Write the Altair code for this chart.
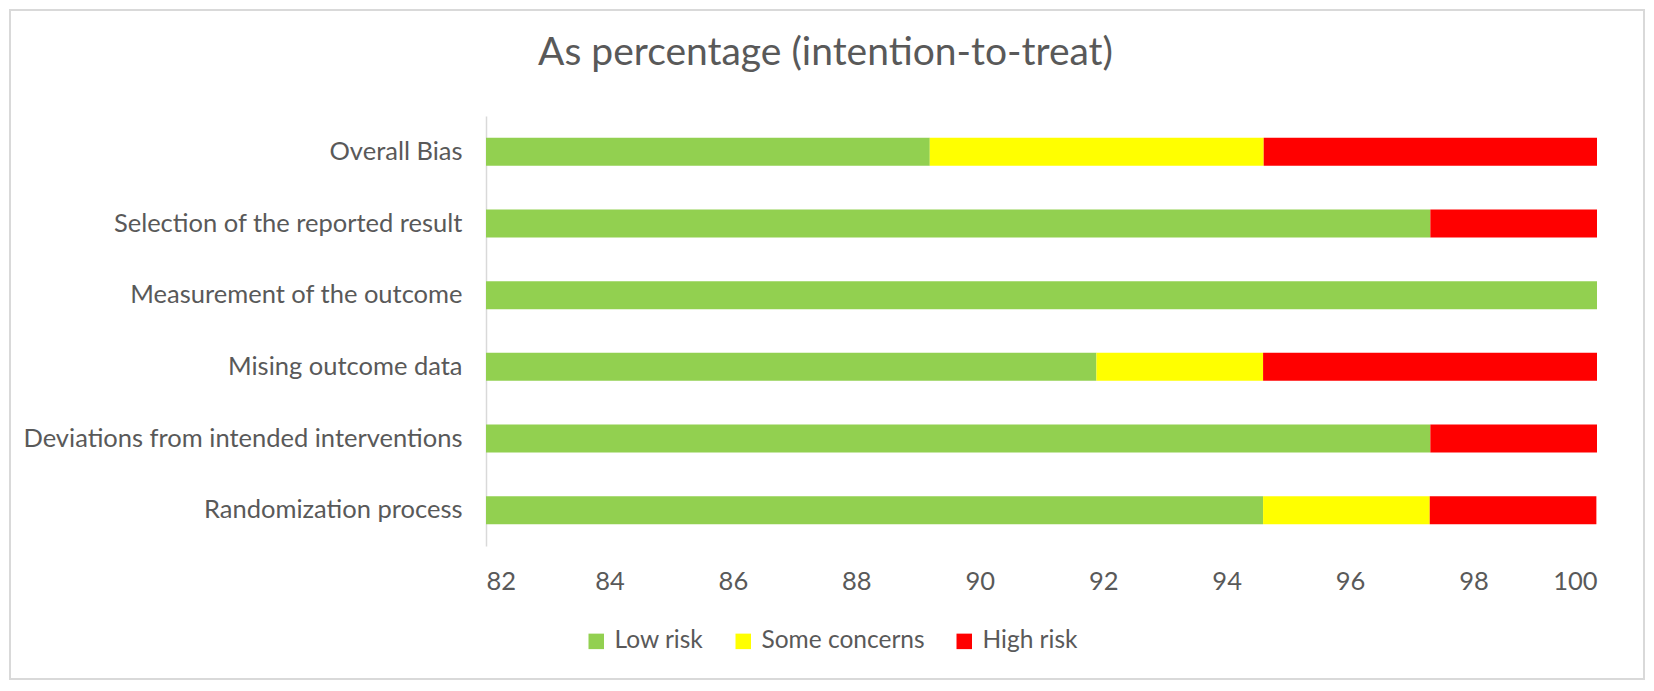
import altair as alt
import pandas as pd

# Data (percent of studies per risk-of-bias judgement)
domains = [
    "Overall Bias",
    "Selection of the reported result",
    "Measurement of the outcome",
    "Mising outcome data",
    "Deviations from intended interventions",
    "Randomization process",
]
low_risk = [89.19, 97.30, 100.0, 91.89, 97.30, 94.59]
some_concerns = [5.41, 0.0, 0.0, 2.70, 0.0, 2.70]
high_risk = [5.41, 2.70, 0.0, 5.41, 2.70, 2.70]
categories = ["Low risk", "Some concerns", "High risk"]
colors = ["#92D050", "#FFFF00", "#FF0000"]
x_ticks = [82, 84, 86, 88, 90, 92, 94, 96, 98, 100]

rows = []
for i, d in enumerate(domains):
    for k, (cat, vals) in enumerate(zip(categories, [low_risk, some_concerns, high_risk])):
        rows.append({"domain": d, "risk": cat, "value": vals[i], "order": k})
df = pd.DataFrame(rows)

FONT = "Lato"
TXT = "#595959"

bars = alt.Chart(df).mark_bar(clip=True).encode(
    y=alt.Y(
        "domain:N",
        sort=domains,
        title=None,
        scale=alt.Scale(paddingInner=0.61, paddingOuter=0.305),
        axis=alt.Axis(
            ticks=False,
            domainColor="#D9D9D9",
            domainWidth=1.5,
            labelFont=FONT,
            labelFontSize=25.5,
            labelColor=TXT,
            labelPadding=24,
            labelLimit=600,
        ),
    ),
    x=alt.X(
        "value:Q",
        stack="zero",
        title=None,
        scale=alt.Scale(domain=[82, 100], nice=False, zero=False),
        axis=alt.Axis(
            values=x_ticks,
            domain=False,
            ticks=False,
            grid=False,
            labelFont=FONT,
            labelFontSize=25.5,
            labelColor=TXT,
            labelPadding=23,
        ),
    ),
    color=alt.Color(
        "risk:N",
        sort=categories,
        scale=alt.Scale(domain=categories, range=colors),
        legend=alt.Legend(
            title=None,
            orient="none",
            direction="horizontal",
            legendX=98,
            legendY=513,
            symbolType="square",
            symbolSize=240,
            symbolStrokeWidth=0,
            labelFont=FONT,
            labelFontSize=24.5,
            labelColor=TXT,
            labelOffset=6,
            labelLimit=400,
            columnPadding=27,
        ),
    ),
    order=alt.Order("order:Q"),
)

frame = alt.Chart(pd.DataFrame({"a": [0]})).mark_rect(
    filled=False, stroke="#D9D9D9", strokeWidth=2
).encode(
    x=alt.value(-476), x2=alt.value(1158), y=alt.value(-106), y2=alt.value(563)
)

chart = alt.layer(frame, bars).properties(
    width=1111,
    height=430,
    autosize=alt.AutoSizeParams(type="none"),
    padding={"left": 478, "top": 108, "right": 49, "bottom": 135},
    title=alt.TitleParams(
        "As percentage (intention-to-treat)",
        font=FONT,
        fontSize=39,
        fontWeight="normal",
        color=TXT,
        anchor="middle",
        frame="group",
        dx=-216,
        offset=-64,
    ),
).configure(background="white").configure_view(stroke=None)

chart.save("out.html", embed_options={"renderer": "svg", "actions": False})
